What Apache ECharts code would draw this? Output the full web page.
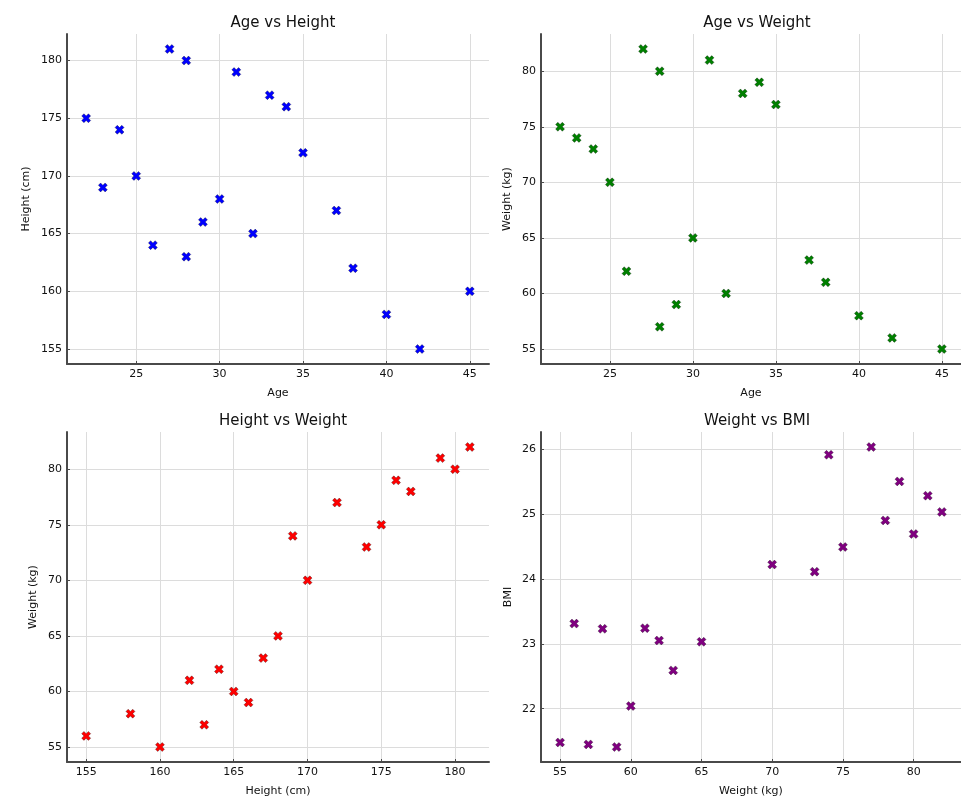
<!DOCTYPE html>
<html>
<head>
<meta charset="utf-8">
<script src="https://cdn.jsdelivr.net/npm/echarts@6/dist/echarts.min.js"></script>
<style>
  html, body { margin: 0; padding: 0; background: #fff; }
  #main { width: 961px; height: 801px; }
</style>
</head>
<body>
<div id="main"></div>
<script>
// values (same 20 people in each)
var ages = [22, 23, 24, 25, 26, 27, 28, 28, 29, 30, 31, 32, 33, 34, 35, 37, 38, 40, 42, 45];
var heights = [175, 169, 174, 170, 164, 181, 180, 163, 166, 168, 179, 165, 177, 176, 172, 167, 162, 158, 155, 160];
var weights = [75, 74, 73, 70, 62, 82, 80, 57, 59, 65, 81, 60, 78, 79, 77, 63, 61, 58, 56, 55];
var bmis = [24.49, 25.91, 24.11, 24.22, 23.05, 25.03, 24.69, 21.45, 21.41, 23.03, 25.28, 22.04, 24.90, 25.50, 26.03, 22.59, 23.24, 23.23, 23.31, 21.48];

var titles = ['Age vs Height', 'Age vs Weight', 'Height vs Weight', 'Weight vs BMI'];
var xNames = ['Age', 'Age', 'Height (cm)', 'Weight (kg)'];
var yNames = ['Height (cm)', 'Weight (kg)', 'Weight (kg)', 'BMI'];
var colors = ['#0000ff', '#008000', '#ff0000', '#800080'];

var font = 'DejaVu Sans';
var xMark = 'path://M0,2.5 L2.5,0 L5,2.5 L7.5,0 L10,2.5 L7.5,5 L10,7.5 L7.5,10 L5,7.5 L2.5,10 L0,7.5 L2.5,5 Z';

function zip(a, b) {
    var out = [];
    for (var i = 0; i < a.length; i++) {
        out.push([a[i], b[i]]);
    }
    return out;
}

var panels = [
    { x: ages, y: heights, left: 67, top: 34, xr: [20.85, 46.15], yr: [153.7, 182.3], step: [5, 5], yGap: 35 },
    { x: ages, y: weights, left: 541, top: 34, xr: [20.85, 46.15], yr: [53.65, 83.35], step: [5, 5], yGap: 28 },
    { x: heights, y: weights, left: 67, top: 432, xr: [153.7, 182.3], yr: [53.65, 83.35], step: [5, 5], yGap: 28 },
    { x: weights, y: bmis, left: 541, top: 432, xr: [53.65, 83.35], yr: [21.179, 26.261], step: [5, 1], yGap: 27 }
];

var gridW = 422, gridH = 330;

var axisLine = { show: true, lineStyle: { color: '#4a4a4a', width: 2 } };
var axisTick = { show: true, inside: true, length: 3, lineStyle: { color: '#4a4a4a' } };
var splitLine = { show: true, showMinLine: false, showMaxLine: false, lineStyle: { color: '#dcdcdc', width: 1 } };
var labelStyle = { fontFamily: font, fontSize: 11, color: '#111', showMinLabel: false, showMaxLabel: false };

var option = {
    animation: false,
    backgroundColor: '#fff',
    title: [],
    grid: [],
    xAxis: [],
    yAxis: [],
    series: []
};

panels.forEach(function (p, i) {
    option.title.push({
        text: titles[i],
        left: p.left + gridW / 2,
        top: p.top - 23,
        textAlign: 'center',
        textStyle: { fontFamily: font, fontSize: 15, fontWeight: 'normal', color: '#111' }
    });
    option.grid.push({ left: p.left, top: p.top, width: gridW, height: gridH });
    option.xAxis.push({
        gridIndex: i,
        type: 'value',
        min: p.xr[0],
        max: p.xr[1],
        minInterval: p.step[0],
        maxInterval: p.step[0],
        name: xNames[i],
        nameLocation: 'middle',
        nameGap: 24,
        nameTextStyle: { fontFamily: font, fontSize: 11, color: '#111' },
        axisLine: axisLine,
        axisTick: axisTick,
        splitLine: splitLine,
        axisLabel: Object.assign({ margin: 5 }, labelStyle)
    });
    option.yAxis.push({
        gridIndex: i,
        type: 'value',
        min: p.yr[0],
        max: p.yr[1],
        minInterval: p.step[1],
        maxInterval: p.step[1],
        name: yNames[i],
        nameLocation: 'middle',
        nameGap: p.yGap,
        nameTextStyle: { fontFamily: font, fontSize: 11, color: '#111' },
        axisLine: axisLine,
        axisTick: axisTick,
        splitLine: splitLine,
        axisLabel: Object.assign({ margin: 5 }, labelStyle)
    });
    option.series.push({
        type: 'scatter',
        xAxisIndex: i,
        yAxisIndex: i,
        symbol: xMark,
        symbolSize: 9,
        itemStyle: { color: colors[i], borderColor: '#000', borderWidth: 0.3, opacity: 1 },
        data: zip(p.x, p.y)
    });
});

var chart = echarts.init(document.getElementById('main'), null, { renderer: 'canvas' });
chart.setOption(option);
</script>
</body>
</html>
